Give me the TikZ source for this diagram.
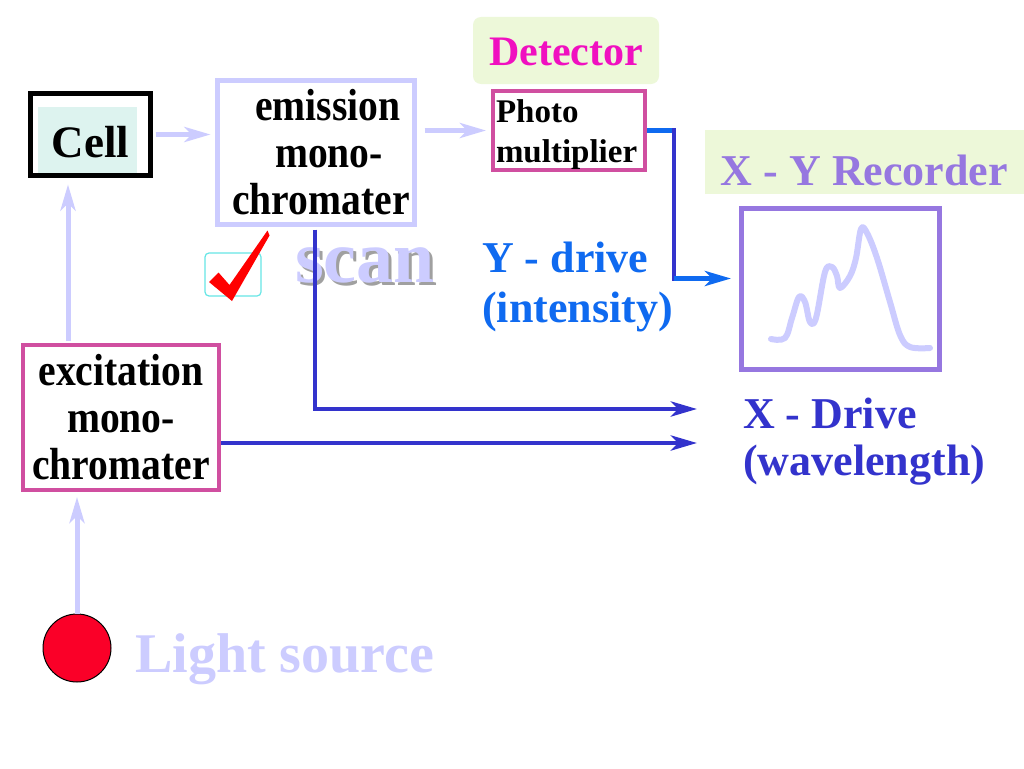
\documentclass[tikz,border=0pt]{standalone}
\usepackage{fontspec}
\setmainfont{Liberation Serif}
\newfontfamily\tallfont[FakeStretch=0.88]{Liberation Serif}
\usepackage{tikz}
\usetikzlibrary{arrows.meta}

\definecolor{lavender}{HTML}{CCCCFF}
\definecolor{pinkline}{HTML}{D04FA0}
\definecolor{detmagenta}{HTML}{F010C0}
\definecolor{palegreen}{HTML}{EDF8D9}
\definecolor{recpurple}{HTML}{9677E0}
\definecolor{darkblue}{HTML}{3333CC}
\definecolor{brightblue}{HTML}{0F6AF0}
\definecolor{cellfill}{HTML}{DDF3EF}
\definecolor{boxcyan}{HTML}{66E6E6}
\definecolor{shadowgray}{HTML}{A0A0A0}
\definecolor{lampred}{HTML}{FA0028}
\definecolor{checkred}{HTML}{FF0000}
\newcommand{\bsize}[2]{\fontsize{#1}{#2}\selectfont\bfseries}

\begin{document}
\begin{tikzpicture}[x=1pt, y=-1pt,
        linkhead/.style={-{Stealth[length=26pt, width=15pt, inset=7pt]}},
        monobox/.style={draw=#1, line width=5pt, inner sep=0pt, align=center, font=\tallfont\bsize{45}{47}},
        greenlabel/.style={fill=palegreen, inner sep=0pt},
        lightlink/.style={draw=lavender, line width=5pt, linkhead},
        xlink/.style={draw=darkblue, line width=4.5pt},
        ylink/.style={draw=brightblue, line width=4.5pt}]
            \path[use as bounding box, fill=white] (0,0) rectangle (1024,768);

            \node[monobox=black, minimum width=120pt, minimum height=82pt, fill=white,
                font=\bsize{45}{50}, text height=45pt, text depth=0pt,
                path picture={\fill[cellfill] ([shift={(7.5pt,-13.5pt)}]path picture bounding box.north west)
                    rectangle ([shift={(-13.5pt,2.5pt)}]path picture bounding box.south east);}]
                (cell) at (90.5,134.5) {Cell};
            \node[monobox=lavender, minimum width=197pt, minimum height=144pt] (em) at (316,152.5)
                {\hspace*{24pt}emission\\\hspace*{26pt}mono-\\\hspace*{10pt}chromater};
            \node[monobox=pinkline, line width=4pt, minimum width=196pt, minimum height=145pt] (exc) at (121,417.5) {excitation\\mono-\\chromater};
            \node[monobox=pinkline, line width=4pt, minimum width=152pt, minimum height=73pt,
                align=left, text width=146pt, font=\bsize{33}{40}] (pm) at (569,130.5) {\rule{0pt}{32pt}Photo\\multiplier};
            \node[draw=recpurple, line width=5pt, minimum width=198pt, minimum height=161pt] (rec) at (840.5,289) {};

            \node[greenlabel, rounded corners=8pt, minimum width=186pt, minimum height=67pt, text=detmagenta,
                font=\bsize{42}{48}, text height=29pt, text depth=0pt] (det) at (566,50.5) {Detector};
            \node[greenlabel, minimum width=319pt, minimum height=64pt, text=recpurple,
                font=\bsize{44}{50}, text height=46pt, text depth=0pt] (xy) at (864.5,162) {X - Y Recorder};

            \node[anchor=north west, inner sep=0pt, align=left, text=brightblue, font=\bsize{44}{50}] (ydrv) at (482,242) {Y - drive\\(intensity)};
            \node[anchor=north west, inner sep=0pt, align=left, text=darkblue, font=\bsize{44}{47}] (xdrv) at (743,398) {X - Drive\\(wavelength)};

            \node[circle, draw=black, line width=1pt, fill=lampred, minimum size=68pt, inner sep=0pt] (lamp) at (77,648) {};
            \node[anchor=base west, inner sep=0pt, text=lavender, font=\bsize{56}{60}] (lslbl) at (135,672) {Light source};

            \coordinate (scanpos) at (295,282);
            \node[anchor=base west, inner sep=0pt, text=shadowgray, font=\bsize{74}{80}] (scanshade) at ([shift={(3pt,-3pt)}]scanpos) {scan};
            \node[anchor=base west, inner sep=0pt, text=lavender, font=\bsize{74}{80}] (scan) at (scanpos) {scan};

            \draw[boxcyan, line width=1.2pt, rounded corners=4pt] (205,253) rectangle (261,296);
            \fill[checkred] (209,282) -- (218.5,272.5) -- (229.5,285) -- (267.5,230.5) -- (269.5,235.5) -- (232,301) -- cycle;

            \draw[lavender, line width=6pt, line cap=round, line join=round] plot[smooth, tension=0.6] coordinates {
                (771,339) (785,338) (792,318) (799,297) (805,302) (810,322) (816,318) (825,272) (832,267)
                (837,276) (840,288) (850,276) (856,258) (861,229) (867,233) (877,258) (890,302) (900,335)
                (910,347) (930,348)};

            \draw[lightlink, shorten <=2pt, shorten >=6.5pt] ([xshift=-53pt]exc.north) -- ([xshift=-22.5pt]cell.south);
            \draw[lightlink, shorten >=5pt] (lamp.north) -- (lamp.north |- exc.south);
            \draw[lightlink, shorten <=2.5pt, shorten >=4.5pt] (cell.east) -- (cell.east -| em.west);
            \draw[lightlink, shorten <=7.5pt, shorten >=5pt] (pm.west -| em.east) -- (pm.west);

            \coordinate (xin1) at (697,409);
            \coordinate (xin2) at (697,443);
            \draw[xlink, linkhead, shorten <=2.5pt] ([xshift=-1pt]em.south) |- (xin1);
            \draw[xlink, linkhead] (exc.east |- xin2) -- (xin2);

            \draw[ylink] (pm.east) -- ++(27,0) coordinate (ybend1);
            \draw[xlink, line cap=rect] (ybend1) -- ++(0,148) coordinate (ybend2);
            \draw[ylink, linkhead, shorten >=8pt] (ybend2) -- (ybend2 -| rec.west);
        \end{tikzpicture}
\end{document}
